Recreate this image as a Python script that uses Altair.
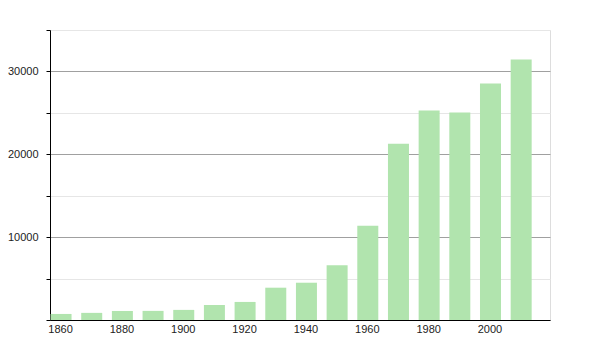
import altair as alt
import pandas as pd

years = [1860, 1870, 1880, 1890, 1900, 1910, 1920, 1930, 1940, 1950,
         1960, 1970, 1980, 1990, 2000, 2010]
population = [730, 860, 1090, 1100, 1220, 1810, 2180, 3900, 4500, 6620,
              11370, 21280, 25270, 25030, 28540, 31440]

df = pd.DataFrame({"year": years, "population": population})

FONT = "Liberation Sans"

chart = alt.Chart(df).mark_bar(size=21, color="#b1e4ae").encode(
    x=alt.X(
        "year:Q",
        scale=alt.Scale(domain=[1856.4, 2019.4], nice=False, zero=False, padding=0),
        axis=alt.Axis(
            values=[1860, 1880, 1900, 1920, 1940, 1960, 1980, 2000],
            format="d",
            title=None,
            grid=False,
            ticks=False,
            domainColor="#000000",
            domainWidth=1,
            labelFont=FONT,
            labelFontSize=11,
            labelColor="#222222",
            labelPadding=3,
            labelOffset=-1,
        ),
    ),
    y=alt.Y(
        "population:Q",
        scale=alt.Scale(domain=[0, 35000], nice=False),
        axis=alt.Axis(
            values=[0, 5000, 10000, 15000, 20000, 25000, 30000, 35000],
            labelExpr="(datum.value % 10000 === 0 && datum.value > 0) ? format(datum.value, 'd') : ''",
            title=None,
            grid=True,
            gridColor=alt.condition("datum.value % 10000 === 0", alt.value("#a0a0a0"), alt.value("#e6e6e6")),
            gridWidth=1,
            ticks=True,
            tickSize=4,
            tickColor="#000000",
            domainColor="#000000",
            domainWidth=1,
            labelFont=FONT,
            labelFontSize=11,
            labelColor="#222222",
            labelPadding=8,
        ),
    ),
).properties(
    width=500,
    height=290,
    autosize=alt.AutoSizeParams(type="none"),
    padding={"left": 50, "top": 30, "right": 50, "bottom": 30},
).configure_view(stroke=None).configure(background="white")

chart.save("out.html", embed_options={"renderer": "svg", "actions": False})
